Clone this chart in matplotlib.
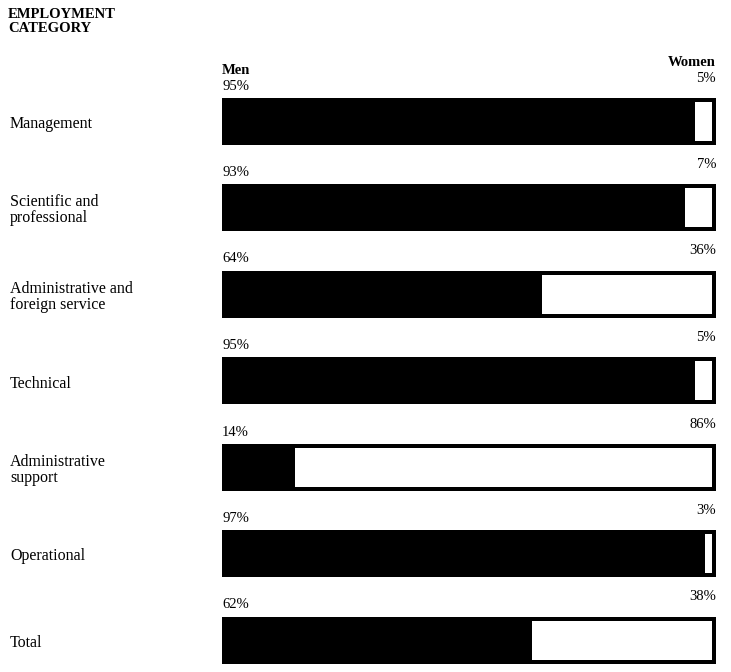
import matplotlib
matplotlib.use("Agg")
import matplotlib.pyplot as plt
import matplotlib.transforms as mtransforms

categories = ["Management", "Scientific and\nprofessional", "Administrative and\nforeign service",
              "Technical", "Administrative\nsupport", "Operational", "Total"]
men = [95, 93, 64, 95, 14, 97, 62]
women = [5, 7, 36, 5, 86, 3, 38]

plt.rcParams['font.family'] = ['Liberation Serif', 'DejaVu Serif']

fig = plt.figure(figsize=(7.31, 6.72), dpi=100)
# axes covers the bar area horizontally, full height so y is in pixels
ax = fig.add_axes([222 / 731, 0, 494 / 731, 1])
ax.set_xlim(0, 100)
ax.set_ylim(672, 0)
ax.axis("off")

y0, step, h = 121, 86.5, 47
ys = [y0 + step * i for i in range(len(categories))]
pad_x = 4 / 494 * 100   # border thickness in percent units
pad_y = 4

# black frame + men part, then white women part inset inside the frame
totals = [m + w for m, w in zip(men, women)]
ax.barh(ys, totals, height=h, color="black", linewidth=0)
ax.barh(ys, [w - 2 * pad_x for w in women], left=[m + pad_x for m in men],
        height=h - 2 * pad_y, color="white", linewidth=0)

for y, m, w in zip(ys, men, women):
    ax.text(0, y - h / 2 - 5, f"{m}%", ha="left", va="bottom", fontsize=10.5)
    ax.text(100, y - h / 2 - 13, f"{w}%", ha="right", va="bottom", fontsize=10.5)

ax.text(0, ys[0] - h / 2 - 21, "Men", ha="left", va="bottom", fontsize=10.5, fontweight="bold")
ax.text(100, ys[0] - h / 2 - 29, "Women", ha="right", va="bottom", fontsize=10.5, fontweight="bold")

trans = mtransforms.blended_transform_factory(fig.transFigure, ax.transData)
for y, c in zip(ys, categories):
    ax.text(10 / 731, y + 3, c, transform=trans, ha="left", va="center",
            fontsize=11.5, linespacing=1.0)

fig.text(8 / 731, 1 - 8 / 672, "EMPLOYMENT\nCATEGORY", ha="left", va="top",
         fontsize=10.5, fontweight="bold", linespacing=1.05)

fig.savefig("out.png", dpi=100, facecolor="white")
